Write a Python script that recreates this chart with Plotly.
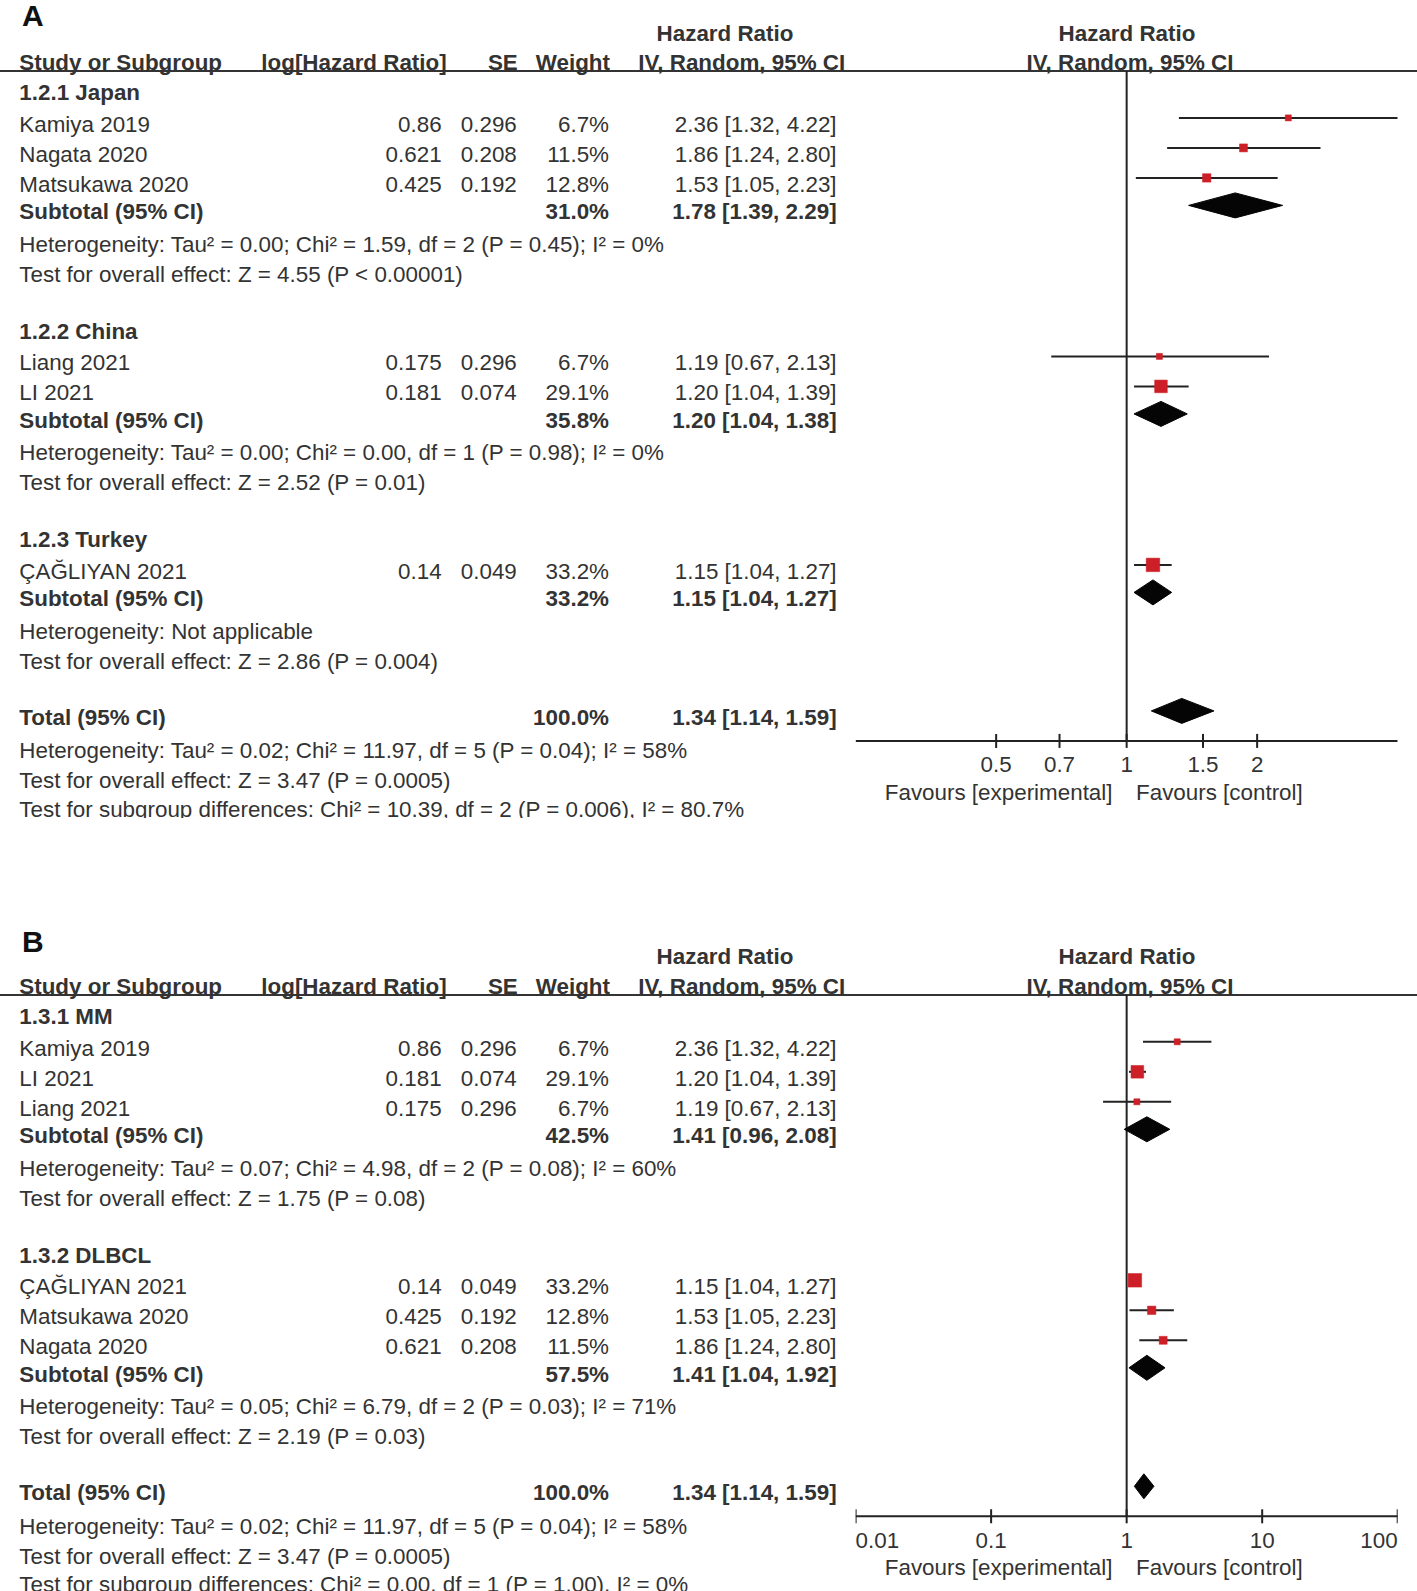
import math
import plotly.graph_objects as go

W, H = 1417, 1591

# ---------------- Panel A data ----------------
A_group_names = ["1.2.1 Japan", "1.2.2 China", "1.2.3 Turkey"]
A_group_sizes = [3, 2, 1]
A_study = ["Kamiya 2019", "Nagata 2020", "Matsukawa 2020", "Liang 2021", "LI 2021", "ÇAĞLIYAN 2021"]
A_loghr = ["0.86", "0.621", "0.425", "0.175", "0.181", "0.14"]
A_se = ["0.296", "0.208", "0.192", "0.296", "0.074", "0.049"]
A_weight = [6.7, 11.5, 12.8, 6.7, 29.1, 33.2]
A_hr = [2.36, 1.86, 1.53, 1.19, 1.20, 1.15]
A_lo = [1.32, 1.24, 1.05, 0.67, 1.04, 1.04]
A_hi = [4.22, 2.80, 2.23, 2.13, 1.39, 1.27]
A_sub_weight = [31.0, 35.8, 33.2]
A_sub_hr = [1.78, 1.20, 1.15]
A_sub_lo = [1.39, 1.04, 1.04]
A_sub_hi = [2.29, 1.38, 1.27]
A_het = ["Heterogeneity: Tau² = 0.00; Chi² = 1.59, df = 2 (P = 0.45); I² = 0%",
         "Heterogeneity: Tau² = 0.00; Chi² = 0.00, df = 1 (P = 0.98); I² = 0%",
         "Heterogeneity: Not applicable"]
A_test = ["Test for overall effect: Z = 4.55 (P < 0.00001)",
          "Test for overall effect: Z = 2.52 (P = 0.01)",
          "Test for overall effect: Z = 2.86 (P = 0.004)"]
A_total = [1.34, 1.14, 1.59]
A_total_weight = 100.0
A_total_het = "Heterogeneity: Tau² = 0.02; Chi² = 11.97, df = 5 (P = 0.04); I² = 58%"
A_total_test = "Test for overall effect: Z = 3.47 (P = 0.0005)"
A_subgroup_test = "Test for subgroup differences: Chi² = 10.39, df = 2 (P = 0.006), I² = 80.7%"
A_ticks = [0.5, 0.7, 1, 1.5, 2]
A_tick_labels = ["0.5", "0.7", "1", "1.5", "2"]
A_range = [1 / 4.22, 4.22]

# ---------------- Panel B data ----------------
B_group_names = ["1.3.1 MM", "1.3.2 DLBCL"]
B_group_sizes = [3, 3]
B_study = ["Kamiya 2019", "LI 2021", "Liang 2021", "ÇAĞLIYAN 2021", "Matsukawa 2020", "Nagata 2020"]
B_loghr = ["0.86", "0.181", "0.175", "0.14", "0.425", "0.621"]
B_se = ["0.296", "0.074", "0.296", "0.049", "0.192", "0.208"]
B_weight = [6.7, 29.1, 6.7, 33.2, 12.8, 11.5]
B_hr = [2.36, 1.20, 1.19, 1.15, 1.53, 1.86]
B_lo = [1.32, 1.04, 0.67, 1.04, 1.05, 1.24]
B_hi = [4.22, 1.39, 2.13, 1.27, 2.23, 2.80]
B_sub_weight = [42.5, 57.5]
B_sub_hr = [1.41, 1.41]
B_sub_lo = [0.96, 1.04]
B_sub_hi = [2.08, 1.92]
B_het = ["Heterogeneity: Tau² = 0.07; Chi² = 4.98, df = 2 (P = 0.08); I² = 60%",
         "Heterogeneity: Tau² = 0.05; Chi² = 6.79, df = 2 (P = 0.03); I² = 71%"]
B_test = ["Test for overall effect: Z = 1.75 (P = 0.08)",
          "Test for overall effect: Z = 2.19 (P = 0.03)"]
B_total = [1.34, 1.14, 1.59]
B_total_weight = 100.0
B_total_het = "Heterogeneity: Tau² = 0.02; Chi² = 11.97, df = 5 (P = 0.04); I² = 58%"
B_total_test = "Test for overall effect: Z = 3.47 (P = 0.0005)"
B_subgroup_test = "Test for subgroup differences: Chi² = 0.00, df = 1 (P = 1.00), I² = 0%"
B_ticks = [0.01, 0.1, 1, 10, 100]
B_tick_labels = ["0.01", "0.1", "1", "10", "100"]
B_range = [0.01, 100]

# ---------------- styling / layout constants ----------------
FONT = "Liberation Sans, Arial, sans-serif"
FS = 22.4
TXT = "#333333"
LINE = "#222222"
RED = "#cc1f27"
X_LEFT = 19.3
X_LOGHR = 441.6
X_SE = 516.8
X_WEIGHT = 609.0
X_CI = 836.6
FOREST_X0, FOREST_X1 = 855.6, 1397.7
TEXT_DY = 2.5
MARK_DY = -6
DIAMOND_H = 12.5

fig = go.Figure()


def fmt_ci(h, l, u):
    return f"{h:.2f} [{l:.2f}, {u:.2f}]"


def build_panel(letter, letter_dy, title0, axis, rng, gnames, gsizes, study, loghr, se, weight, hr, lo, hi,
                sw, shr, slo, shi, het, test, total, tw, thet, ttest, sgtest,
                ticks, tick_labels, tick_pos, clip_bottom=None):
    tx, ty, tt, tp = [], [], [], []

    def add(x, y, t, p="middle right", bold=False):
        tx.append(x); ty.append(y + TEXT_DY); tt.append(f"<b>{t}</b>" if bold else t); tp.append(p)

    # headers
    y_h1 = title0 - 59.9
    y_h2 = title0 - 30.4
    y_line = title0 - 21.4
    add(725, y_h1, "Hazard Ratio", "middle center", True)
    add(1127, y_h1, "Hazard Ratio", "middle center", True)
    add(X_LEFT, y_h2, "Study or Subgroup", "middle right", True)
    add(446.7, y_h2, "log[Hazard Ratio]", "middle left", True)
    add(517.8, y_h2, "SE", "middle left", True)
    add(610.0, y_h2, "Weight", "middle left", True)
    add(741.7, y_h2, "IV, Random, 95% CI", "middle center", True)
    add(1130, y_h2, "IV, Random, 95% CI", "middle center", True)

    # rows
    y = title0
    study_y, sub_y = [], []
    k = 0
    for gi, n in enumerate(gsizes):
        if gi > 0:
            y += 57
        add(X_LEFT, y, gnames[gi], bold=True)
        y += 31.5
        for j in range(n):
            if j > 0:
                y += 30
            study_y.append(y)
            add(X_LEFT, y, study[k])
            add(X_LOGHR, y, loghr[k], "middle left")
            add(X_SE, y, se[k], "middle left")
            add(X_WEIGHT, y, f"{weight[k]:.1f}%", "middle left")
            add(X_CI, y, fmt_ci(hr[k], lo[k], hi[k]), "middle left")
            k += 1
        y += 27.5
        sub_y.append(y)
        add(X_LEFT, y, "Subtotal (95% CI)", bold=True)
        add(X_WEIGHT, y, f"{sw[gi]:.1f}%", "middle left", True)
        add(X_CI, y, fmt_ci(shr[gi], slo[gi], shi[gi]), "middle left", True)
        y += 32.5
        add(X_LEFT, y, het[gi])
        y += 30
        add(X_LEFT, y, test[gi])
    y += 56
    y_total = y
    add(X_LEFT, y, "Total (95% CI)", bold=True)
    add(X_WEIGHT, y, f"{tw:.1f}%", "middle left", True)
    add(X_CI, y, fmt_ci(*total), "middle left", True)
    y += 33.5
    add(X_LEFT, y, thet)
    y += 30
    add(X_LEFT, y, ttest)
    y += 28.5
    add(X_LEFT, y, sgtest)

    y_axis = y_total + 24.0
    y_tl = y_axis + 23.5
    y_fav = y_tl + 27.5
    add(1112.5, y_fav, "Favours [experimental]", "middle left")
    add(1136.0, y_fav, "Favours [control]", "middle right")

    # panel letter
    fig.add_trace(go.Scatter(x=[22.0], y=[title0 + letter_dy + TEXT_DY], mode="text", text=[f"<b>{letter}</b>"],
                             textposition="middle right",
                             textfont=dict(family=FONT, size=30, color="#111111"),
                             xaxis="x", yaxis="y", hoverinfo="skip"))
    # text
    fig.add_trace(go.Scatter(x=tx, y=ty, mode="text", text=tt, textposition=tp,
                             textfont=dict(family=FONT, size=FS, color=TXT),
                             xaxis="x", yaxis="y", hoverinfo="skip"))
    # header rule
    fig.add_trace(go.Scatter(x=[0, W], y=[y_line, y_line], mode="lines",
                             line=dict(color=TXT, width=2), xaxis="x", yaxis="y", hoverinfo="skip"))

    # null line + axis line + ticks (through the log axis)
    lx, ly = [1, 1, None], [y_line, y_axis, None]
    lx += [rng[0], rng[1], None]
    ly += [y_axis, y_axis, None]
    for t in ticks:
        lx += [t, t, None]
        ly += [y_axis - 7, y_axis + 7, None]
    fig.add_trace(go.Scatter(x=lx, y=ly, mode="lines", line=dict(color=LINE, width=2),
                             xaxis=axis, yaxis="y", hoverinfo="skip", cliponaxis=False))
    fig.add_trace(go.Scatter(x=ticks, y=[y_tl + TEXT_DY] * len(ticks), mode="text", text=tick_labels,
                             textposition=tick_pos, textfont=dict(family=FONT, size=FS, color=TXT),
                             xaxis=axis, yaxis="y", hoverinfo="skip", cliponaxis=False))

    # studies: CI lines (drawn first) then weighted squares on top
    cx, cy = [], []
    for l, u, yy in zip(lo, hi, study_y):
        cx += [l, u, None]
        cy += [yy + MARK_DY, yy + MARK_DY, None]
    fig.add_trace(go.Scatter(x=cx, y=cy, mode="lines", line=dict(color=LINE, width=2),
                             xaxis=axis, yaxis="y", hoverinfo="skip", cliponaxis=False))
    fig.add_trace(go.Scatter(
        x=hr, y=[v + MARK_DY for v in study_y], mode="markers",
        marker=dict(symbol="square", color=RED, opacity=1,
                    size=[2.35 * math.sqrt(w) for w in weight],
                    line=dict(width=0.5, color=RED)),
        xaxis=axis, yaxis="y", hoverinfo="skip", cliponaxis=False))

    # diamonds
    dia = list(zip(shr, slo, shi, [v + MARK_DY for v in sub_y]))
    dia.append((total[0], total[1], total[2], y_total + MARK_DY))
    for h, l, u, yc in dia:
        fig.add_trace(go.Scatter(x=[l, h, u, h, l], y=[yc, yc - DIAMOND_H, yc, yc + DIAMOND_H, yc],
                                 mode="lines", fill="toself", fillcolor="#050505",
                                 line=dict(color="#050505", width=1),
                                 xaxis=axis, yaxis="y", hoverinfo="skip"))
    if clip_bottom is not None:
        fig.add_shape(type="rect", xref="x", yref="y", x0=0, x1=848, y0=clip_bottom, y1=clip_bottom + 80,
                      fillcolor="white", line=dict(width=0), layer="above")


build_panel("A", -76.5, 92.4, "x2", A_range, A_group_names, A_group_sizes, A_study, A_loghr, A_se, A_weight,
            A_hr, A_lo, A_hi, A_sub_weight, A_sub_hr, A_sub_lo, A_sub_hi, A_het, A_test,
            A_total, A_total_weight, A_total_het, A_total_test, A_subgroup_test,
            A_ticks, A_tick_labels, ["middle center"] * 5, clip_bottom=818)
build_panel("B", -74.5, 1016.3, "x3", B_range, B_group_names, B_group_sizes, B_study, B_loghr, B_se, B_weight,
            B_hr, B_lo, B_hi, B_sub_weight, B_sub_hr, B_sub_lo, B_sub_hi, B_het, B_test,
            B_total, B_total_weight, B_total_het, B_total_test, B_subgroup_test,
            B_ticks, B_tick_labels,
            ["middle right", "middle center", "middle center", "middle center", "middle left"])

dom = [FOREST_X0 / W, FOREST_X1 / W]
fig.update_layout(
    width=W, height=H, margin=dict(l=0, r=0, t=0, b=0),
    paper_bgcolor="white", plot_bgcolor="rgba(0,0,0,0)", showlegend=False, hovermode=False,
    xaxis=dict(range=[0, W], domain=[0, 1], visible=False, fixedrange=True),
    yaxis=dict(range=[H, 0], domain=[0, 1], visible=False, fixedrange=True),
    xaxis2=dict(type="log", range=[math.log10(A_range[0]), math.log10(A_range[1])], domain=dom,
                anchor="y", visible=False, fixedrange=True),
    xaxis3=dict(type="log", range=[math.log10(B_range[0]), math.log10(B_range[1])], domain=dom,
                anchor="y", visible=False, fixedrange=True),
)

fig.write_html("out.html", config={"displayModeBar": False},
               post_script="document.body.style.margin='0';")
